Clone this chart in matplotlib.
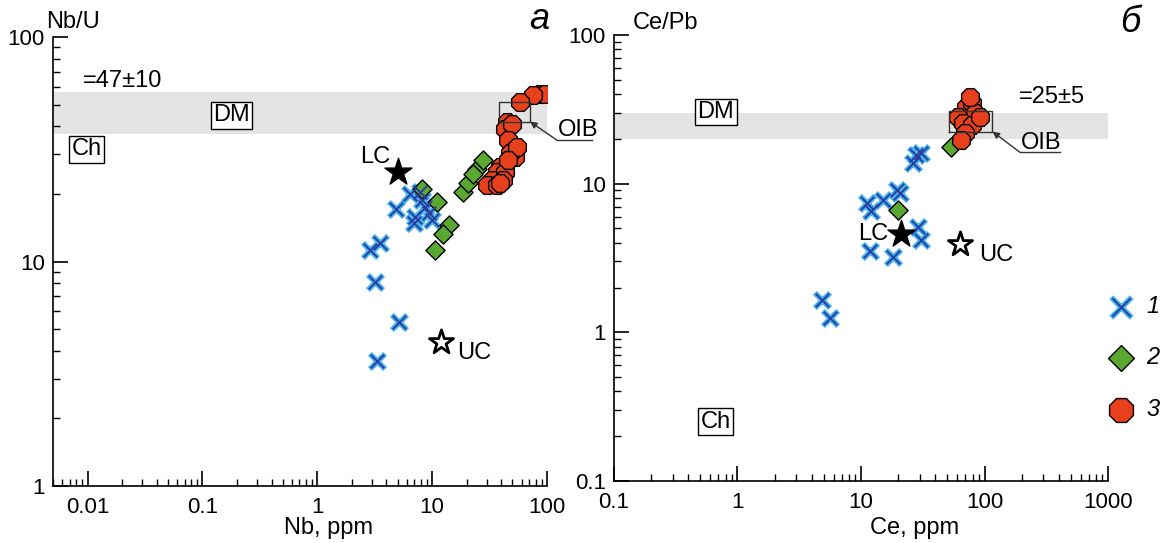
import matplotlib.pyplot as plt
import matplotlib.ticker as mticker
from matplotlib.legend_handler import HandlerTuple

plt.rcParams['font.family'] = ['Liberation Sans', 'DejaVu Sans']

# panel a: Nb (ppm) vs Nb/U
nb_1 = [2.9, 3.5, 3.2, 5.1, 3.3, 4.8, 6.4, 7.1, 8.1, 9.3, 7.9, 6.9, 9.9, 8.7]
nbu_1 = [11.2, 12.1, 8.1, 5.4, 3.6, 17.2, 20, 15.8, 18.7, 16.4, 20.4, 14.8, 15.3, 17.5]
nb_2 = [8.1, 11, 13.9, 12.5, 10.6, 18.7, 20.7, 24.5, 27.9, 22.9]
nbu_2 = [21.1, 18.4, 14.5, 13.3, 11.2, 20.4, 22.3, 25.9, 28.3, 24.6]
nb_3 = [87, 96, 76, 58, 44.6, 43.1, 49.4, 46, 52.7, 47.6, 54.6, 39, 36.5, 33, 29.9,
        36.5, 43, 46, 41.6, 39]
nbu_3 = [56, 56, 54.9, 51.4, 41.9, 39.1, 41, 34.7, 29.2, 30.3, 32.4, 26.4, 25, 23,
         21.9, 21.9, 25, 28.3, 23, 22.3]
lc_a = (5, 25)
uc_a = (12, 4.4)
dm_a = (37, 57)          # Nb/U = 47 +- 10
oib_a = (38, 71, 42, 51.5)

# panel б: Ce (ppm) vs Ce/Pb
ce_1 = [28.1, 26.4, 30.8, 11.1, 12.1, 15.1, 19.4, 20.6, 11.8, 18.2, 29, 30.8, 4.8, 5.6]
cepb_1 = [15.6, 13.7, 16.0, 7.4, 6.5, 7.8, 9.1, 8.6, 3.5, 3.2, 5.1, 4.2, 1.65, 1.24]
ce_2 = [20, 54]
cepb_2 = [6.65, 17.7]
ce_3 = [71.3, 78.5, 83.4, 61, 67, 78.5, 69, 65, 91.4, 76.5]
cepb_3 = [33, 34.7, 29.7, 28.2, 25.4, 24.8, 21.8, 19.7, 28.2, 38.5]
lc_b = (21, 4.6)
uc_b = (63, 3.9)
dm_b = (20, 30)          # Ce/Pb = 25 +- 5
oib_b = (52, 116, 22.4, 31)

light_blue = '#44b3ee'
dark_blue = '#2c3c9e'
green = '#5aa832'
red = '#e8401c'
fs = 16
fl = 17

fig = plt.figure(figsize=(11.65, 5.43), dpi=100)
ax1 = fig.add_axes([53 / 1165, 57 / 543, 494 / 1165, 449 / 543])
ax2 = fig.add_axes([614 / 1165, 62 / 543, 494 / 1165, 446 / 543])


def style_axes(ax, xlim, ylim):
    ax.set_xscale('log')
    ax.set_yscale('log')
    ax.set_xlim(*xlim)
    ax.set_ylim(*ylim)
    for s in ['top', 'right']:
        ax.spines[s].set_visible(False)
    for s in ['left', 'bottom']:
        ax.spines[s].set_linewidth(1.2)
    ax.xaxis.set_major_formatter(mticker.FuncFormatter(lambda v, p: '%g' % v))
    ax.yaxis.set_major_formatter(mticker.FuncFormatter(lambda v, p: '%g' % v))
    ax.yaxis.set_minor_formatter(mticker.NullFormatter())
    ax.xaxis.set_minor_formatter(mticker.NullFormatter())
    ax.tick_params(which='major', direction='in', length=11, width=1.2, labelsize=fs)
    ax.tick_params(which='minor', direction='in', length=5, width=1.0)
    ax.tick_params(axis='x', which='major', pad=8)
    ax.tick_params(axis='y', which='major', pad=6)


def crosses(ax, x, y, s=120):
    h1 = ax.scatter(x, y, marker='x', s=s, c=light_blue, linewidths=4, zorder=3)
    h2 = ax.scatter(x, y, marker='x', s=s * 0.8, c=dark_blue, linewidths=1.4, zorder=4)
    return (h1, h2)


def boxed(ax, x, y, txt):
    ax.text(x, y, txt, fontsize=fl, ha='center', va='center', zorder=6,
            bbox=dict(boxstyle='square,pad=0.1', fc='white', ec='black', lw=1.0))


def oib(ax, box, line_x, line_y, text_xy):
    x0, x1, y0, y1 = box
    ax.plot([x0, x1, x1, x0, x0], [y0, y0, y1, y1, y0], color='#333333', lw=1.0, zorder=7)
    ax.plot(line_x, line_y, color='#333333', lw=1.0, clip_on=False, zorder=7)
    ax.annotate('', xy=(x1, y0), xytext=(line_x[0], line_y[0]),
                arrowprops=dict(arrowstyle='-|>', color='#333333', lw=1.0,
                                mutation_scale=10, shrinkA=0, shrinkB=0),
                annotation_clip=False, zorder=7)
    ax.text(text_xy[0], text_xy[1], 'OIB', fontsize=fl, ha='center', va='center')


# ---- panel a ----
style_axes(ax1, (0.005, 100), (1, 100))
ax1.axhspan(dm_a[0], dm_a[1], color='#e4e4e4', lw=0, zorder=0)
crosses(ax1, nb_1, nbu_1)
ax1.scatter(nb_2, nbu_2, marker='D', s=95, c=green, edgecolors='black', linewidths=1, zorder=3)
ax1.scatter(nb_3, nbu_3, marker='8', s=190, c=red, edgecolors='black', linewidths=1, zorder=5)
ax1.scatter(*lc_a, marker='*', s=420, c='black', zorder=6)
ax1.scatter(*uc_a, marker='*', s=330, c='white', edgecolors='black', linewidths=2, zorder=6)
ax1.text(3.2, 29.2, 'LC', fontsize=fl, ha='center', va='center')
ax1.text(23, 3.9, 'UC', fontsize=fl, ha='center', va='center')
ax1.text(0.02, 64, '=47±10', fontsize=fl, ha='center', va='center')
boxed(ax1, 0.179, 44.8, 'DM')
boxed(ax1, 0.0098, 31.6, 'Ch')
oib(ax1, oib_a, [122, 246], [34.7, 34.7], (185, 38.5))
ax1.text(0.04, 1.033, 'Nb/U', transform=ax1.transAxes, fontsize=fl, ha='center', va='center')
ax1.text(0.557, -0.093, 'Nb, ppm', transform=ax1.transAxes, fontsize=fl, ha='center', va='center')
ax1.text(0.985, 1.04, 'а', transform=ax1.transAxes, fontsize=26, style='italic',
         ha='center', va='center')

# ---- panel б ----
style_axes(ax2, (0.1, 1000), (0.1, 100))
ax2.axhspan(dm_b[0], dm_b[1], color='#e4e4e4', lw=0, zorder=0)
h1 = crosses(ax2, ce_1, cepb_1)
h2 = ax2.scatter(ce_2, cepb_2, marker='D', s=95, c=green, edgecolors='black', linewidths=1, zorder=3)
h3 = ax2.scatter(ce_3, cepb_3, marker='8', s=190, c=red, edgecolors='black', linewidths=1, zorder=5)
ax2.scatter(*lc_b, marker='*', s=420, c='black', zorder=6)
ax2.scatter(*uc_b, marker='*', s=330, c='white', edgecolors='black', linewidths=2, zorder=6)
ax2.text(12.6, 4.6, 'LC', fontsize=fl, ha='center', va='center')
ax2.text(125, 3.3, 'UC', fontsize=fl, ha='center', va='center')
ax2.text(350, 38.3, '=25±5', fontsize=fl, ha='center', va='center')
boxed(ax2, 0.667, 30.4, 'DM')
boxed(ax2, 0.667, 0.25, 'Ch')
oib(ax2, oib_b, [193, 406], [16.3, 16.3], (285, 18.8))
ax2.text(0.105, 1.027, 'Ce/Pb', transform=ax2.transAxes, fontsize=fl, ha='center', va='center')
ax2.text(0.609, -0.105, 'Ce, ppm', transform=ax2.transAxes, fontsize=fl, ha='center', va='center')
ax2.text(1.045, 1.029, 'б', transform=ax2.transAxes, fontsize=26, style='italic',
         ha='center', va='center')

leg = ax2.legend([h1, h2, h3], ['1', '2', '3'], handler_map={tuple: HandlerTuple(ndivide=1)},
                 loc='center left', bbox_to_anchor=(1106 / 1165, 1 - 358 / 543),
                 bbox_transform=fig.transFigure, frameon=False, fontsize=fl,
                 labelspacing=1.2, handlelength=1.3, handletextpad=0.4,
                 borderpad=0, borderaxespad=0, markerscale=1.35)
for t in leg.get_texts():
    t.set_style('italic')

fig.savefig('out.png', dpi=100)
